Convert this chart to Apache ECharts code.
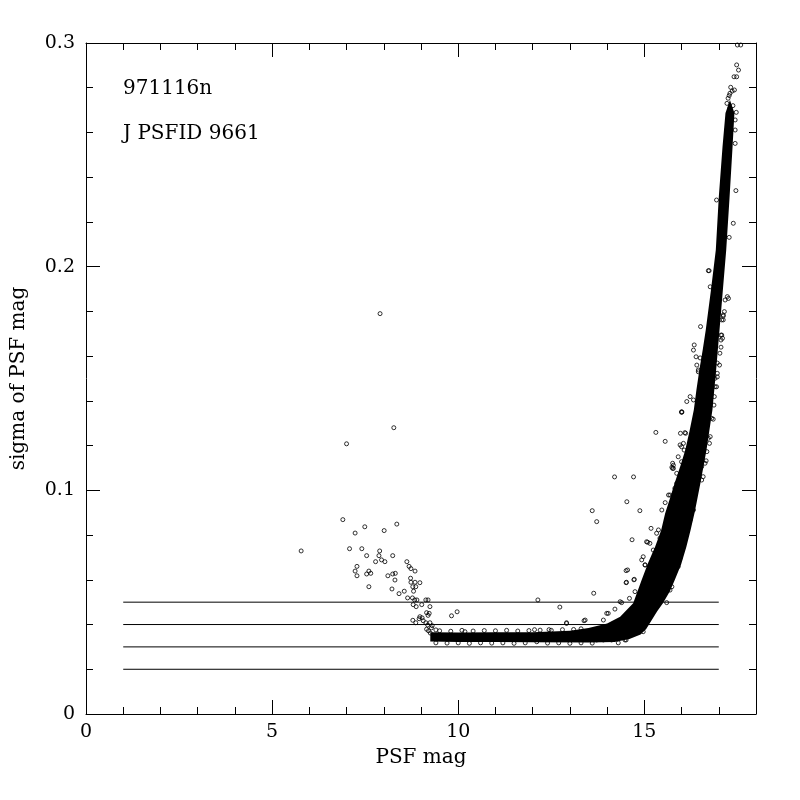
<!DOCTYPE html>
<html>
<head>
<meta charset="utf-8">
<script src="https://cdn.jsdelivr.net/npm/echarts@6/dist/echarts.min.js"></script>
<style>
  html, body { margin: 0; padding: 0; background: #fff; }
  #main { width: 800px; height: 800px; }
</style>
</head>
<body>
<div id="main"></div>
<script>
// tick labels
var xTickValues = [0, 5, 10, 15];
var yTickValues = [0, 0.1, 0.2, 0.3];

// horizontal reference levels, drawn from x = 1 to x = 17
var refLevels = [0.02, 0.03, 0.04, 0.05];
var refStart = 1;
var refEnd = 17;

// outline of the region where the points overlap into solid black
var bandCore = [
    [9.25, .0366], [10.0, .0364], [11.0, .0365], [12.0, .0366], [13.0, .0372], [13.5, .0385],
    [14.0, .0405], [14.35, .0435], [14.7, .0495], [14.93, .06], [15.1, .0675], [15.29, .0748],
    [15.45, .082], [15.56, .0898], [15.7, .097], [15.82, .1035], [15.97, .111], [16.1, .118],
    [16.22, .127], [16.33, .136], [16.4, .145], [16.48, .154], [16.57, .163], [16.65, .1717],
    [16.79, .1896], [16.92, .2074], [17.0, .231], [17.1, .2535], [17.18, .2687], [17.3, .2745],
    [17.42, .2687], [17.37, .2535], [17.29, .231], [17.2, .2074], [17.11, .1896],
    [17.02, .1717], [16.93, .154], [16.83, .136], [16.67, .118], [16.51, .1035], [16.41, .095],
    [16.35, .09], [16.24, .082], [16.13, .0748], [15.99, .067], [15.82, .06], [15.69, .055],
    [15.5, .0495], [15.35, .046], [15.2, .042], [15.05, .038], [14.9, .0355], [14.6, .0335],
    [14.2, .0322], [13.5, .032], [12.0, .0321], [11.0, .0322], [10.0, .0322], [9.25, .0324]
];

// bright stars, scattered to the left of the floor
var leftPoints = [
    [5.78, .0729], [6.9, .0869], [7.0, .1208], [7.08, .0739], [7.23, .0809], [7.23, .0639],
    [7.28, .066], [7.28, .0618], [7.41, .0739], [7.49, .0837], [7.54, .0708], [7.54, .0626],
    [7.6, .0639], [7.65, .0629], [7.6, .0569], [7.78, .0681], [7.87, .0708], [7.89, .0729],
    [7.9, .179], [7.94, .0689], [8.01, .082], [8.03, .0681], [8.11, .0618], [8.22, .0559],
    [8.24, .0708], [8.24, .0626], [8.27, .128], [8.3, .0599], [8.31, .0629], [8.35, .0849],
    [8.41, .0538], [8.55, .0549], [8.62, .0681], [8.64, .0519], [8.68, .066], [8.72, .0607],
    [8.73, .065], [8.73, .0589], [8.77, .0519], [8.78, .0569], [8.78, .0419], [8.79, .0489],
    [8.8, .0549], [8.83, .051], [8.84, .0639], [8.84, .0589], [8.86, .0569], [8.86, .0408],
    [8.87, .048], [8.89, .051], [8.95, .0426], [8.97, .0587], [8.97, .0435], [9.02, .0489],
    [9.03, .043], [9.06, .0417], [9.13, .051], [9.13, .0408], [9.15, .0453], [9.15, .0379],
    [9.19, .051], [9.19, .0441], [9.22, .045], [9.24, .048], [9.24, .0408], [9.4, .0376],
    [9.2, .0372], [9.28, .0385], [9.3, .0395], [9.18, .0398], [9.25, .0362],
    [9.82, .0439], [9.97, .0457], [10.18, .0368]
];

// ragged edges of the flat floor
var floorPoints = [
    [9.5, .0372], [9.8, .037], [10.1, .0374], [10.4, .0371], [10.7, .0373], [11.0, .0372],
    [11.3, .0374], [11.6, .0371], [11.9, .0373], [12.2, .0375], [12.5, .0374], [12.8, .0377],
    [13.1, .0378], [13.3, .0381],
    [9.4, .0318], [9.7, .0317], [10.0, .0318], [10.3, .0316], [10.6, .0318], [10.9, .0317],
    [11.2, .0318], [11.5, .0316], [11.8, .0318], [12.4, .0317], [12.7, .0318], [13.0, .0316],
    [13.3, .0318], [13.6, .0317], [14.3, .0318],
    [12.11, .0323], [13.72, .0331], [13.9, .0331], [14.12, .0331], [14.48, .0331], [14.51, .0331],
    [14.97, .0368], [14.88, .0384]
];

// points above / left of the rising branch
var upperPoints = [
    [12.14, .051], [12.73, .0478], [13.64, .054], [12.91, .0408], [13.38, .0417], [12.05, .0377],
    [12.44, .0377], [12.91, .0405], [13.41, .042], [13.9, .042], [13.99, .045], [14.03, .045],
    [14.21, .0469], [14.35, .0502], [14.39, .0498], [14.51, .0587], [14.52, .0589], [14.51, .0641],
    [14.55, .0644], [14.73, .0602], [14.72, .06], [14.75, .0547], [14.6, .0517], [15.02, .0667],
    [15.13, .0644], [15.15, .0644], [14.97, .0703], [14.93, .0689], [15.02, .0666], [14.67, .0779],
    [15.06, .077], [15.15, .0763], [15.09, .0768], [15.18, .083], [15.24, .0733], [15.33, .0726],
    [15.33, .0808], [15.38, .0823], [15.42, .0786], [14.53, .0949], [14.88, .0909], [13.6, .0909],
    [13.72, .086], [14.2, .106], [14.71, .106], [15.47, .0912], [15.56, .0945], [15.65, .0979],
    [15.69, .0979], [15.31, .1259], [15.56, .1219], [16.01, .135], [15.97, .1255], [16.09, .1258],
    [16.11, .1255], [15.78, .1112], [15.74, .1103], [15.76, .1098], [16.0, .1349], [16.0, .1195],
    [16.07, .118], [16.14, .1397], [16.23, .1419], [16.34, .165], [16.32, .1627], [16.39, .1597],
    [16.5, .1592], [16.45, .153], [16.51, .1732], [16.72, .1982], [16.74, .1982], [16.77, .191],
    [16.94, .2298],
    [16.41, .156], [16.45, .1538], [16.32, .1404], [16.0, .1351], [16.05, .121], [15.96, .1203],
    [15.91, .115], [16.0, .1128], [15.76, .1121], [15.78, .1098], [15.87, .1076], [15.87, .1031],
    [15.82, .1009]
];

// points on the faint side of the rising branch and at its top
var rightPoints = [
    [15.96, .0696], [15.91, .0659], [15.74, .0569], [15.69, .0554], [15.6, .0498], [16.23, .0867],
    [16.32, .0912], [16.54, .1106], [16.58, .1061], [16.68, .1173], [16.66, .1132], [16.72, .1233],
    [16.75, .121], [16.85, .1318], [16.88, .1419], [16.87, .1381], [16.9, .1501], [16.9, .1463],
    [17.02, .156], [16.96, .1523], [16.96, .1569], [16.96, .1507], [16.94, .1463], [17.06, .1694],
    [17.06, .1672], [17.06, .164], [17.08, .1694], [17.1, .168], [17.12, .1784], [17.12, .1762],
    [17.15, .1799], [17.08, .1762], [17.12, .1779], [17.26, .1858], [17.17, .1851], [17.23, .1866],
    [17.28, .2131], [17.39, .2194], [17.46, .234], [17.44, .2551], [17.44, .2611], [17.21, .2611],
    [17.44, .2656],
    [16.99, .1791], [17.03, .1613], [16.81, .1322], [16.77, .124], [16.63, .1121], [16.54, .1046],
    [17.5, .2991], [17.59, .2991], [17.48, .2902], [17.53, .2879], [17.41, .2849], [17.48, .2849],
    [17.32, .2802], [17.42, .279], [17.3, .2775], [17.25, .2753], [17.22, .273], [17.3, .271],
    [17.38, .272], [17.47, .269], [17.26, .268], [17.36, .2785], [17.28, .2765]
];

var myChart = echarts.init(document.getElementById('main'));

var FONT = 'DejaVu Serif';
var gridBox = { left: 86, right: 44, top: 43, bottom: 86 };

function majorX(pos, showLabel) {
    return {
        gridIndex: 0, type: 'value', position: pos, min: 0, max: 18,
        axisLine: { show: true, onZero: false, lineStyle: { color: '#000', width: 1 } },
        axisTick: { show: true, inside: true, length: 14, customValues: xTickValues,
            lineStyle: { color: '#000' } },
        axisLabel: { show: showLabel, customValues: xTickValues, color: '#000',
            fontFamily: FONT, fontSize: 19, margin: 9 },
        splitLine: { show: false }
    };
}
function minorX(pos) {
    return {
        gridIndex: 1, type: 'value', position: pos, min: 0, max: 18, interval: 1,
        axisLine: { show: false, onZero: false },
        axisTick: { show: true, inside: true, length: 7, lineStyle: { color: '#000' } },
        axisLabel: { show: false },
        splitLine: { show: false }
    };
}
function majorY(pos, showLabel) {
    return {
        gridIndex: 0, type: 'value', position: pos, min: 0, max: 0.3,
        axisLine: { show: true, onZero: false, lineStyle: { color: '#000', width: 1 } },
        axisTick: { show: true, inside: true, length: 14, customValues: yTickValues,
            lineStyle: { color: '#000' } },
        axisLabel: { show: showLabel, customValues: yTickValues, color: '#000',
            fontFamily: FONT, fontSize: 19, margin: 11 },
        splitLine: { show: false }
    };
}
function minorY(pos) {
    return {
        gridIndex: 1, type: 'value', position: pos, min: 0, max: 0.3, interval: 0.02,
        axisLine: { show: false, onZero: false },
        axisTick: { show: true, inside: true, length: 7, lineStyle: { color: '#000' } },
        axisLabel: { show: false },
        splitLine: { show: false }
    };
}

var xBottom = majorX('bottom', true);
xBottom.name = 'PSF mag';
xBottom.nameLocation = 'middle';
xBottom.nameGap = 34;
xBottom.nameTextStyle = { color: '#000', fontFamily: FONT, fontSize: 20 };

var yLeft = majorY('left', true);
yLeft.name = 'sigma of PSF mag';
yLeft.nameLocation = 'middle';
yLeft.nameGap = 57;
yLeft.nameTextStyle = { color: '#000', fontFamily: FONT, fontSize: 20 };

var pointStyle = {
    type: 'scatter',
    symbol: 'circle',
    symbolSize: 4,
    silent: true,
    itemStyle: { color: 'rgba(0,0,0,0)', borderColor: '#000', borderWidth: 1 }
};

var series = [];
refLevels.forEach(function (lvl) {
    series.push({
        type: 'line',
        data: [[refStart, lvl], [refEnd, lvl]],
        symbol: 'none',
        silent: true,
        lineStyle: { color: '#000', width: 1 }
    });
});
series.push({
    type: 'custom',
    silent: true,
    data: [bandCore[0]],
    renderItem: function (params, api) {
        var pts = bandCore.map(function (p) { return api.coord(p); });
        return {
            type: 'polygon',
            shape: { points: pts },
            style: { fill: '#000', lineWidth: 0 }
        };
    }
});
[leftPoints, floorPoints, upperPoints, rightPoints].forEach(function (arr) {
    series.push(Object.assign({}, pointStyle, { data: arr }));
});

option = {
    backgroundColor: '#fff',
    animation: false,
    grid: [
        Object.assign({}, gridBox),
        Object.assign({}, gridBox)
    ],
    xAxis: [xBottom, majorX('top', false), minorX('bottom'), minorX('top')],
    yAxis: [yLeft, majorY('right', false), minorY('left'), minorY('right')],
    graphic: [
        { type: 'text', left: 123, top: 79,
          style: { text: '971116n', fill: '#000', font: '20px "DejaVu Serif"' } },
        { type: 'text', left: 123, top: 124,
          style: { text: 'J PSFID 9661', fill: '#000', font: '20px "DejaVu Serif"' } }
    ],
    series: series
};
myChart.setOption(option);
</script>
</body>
</html>
